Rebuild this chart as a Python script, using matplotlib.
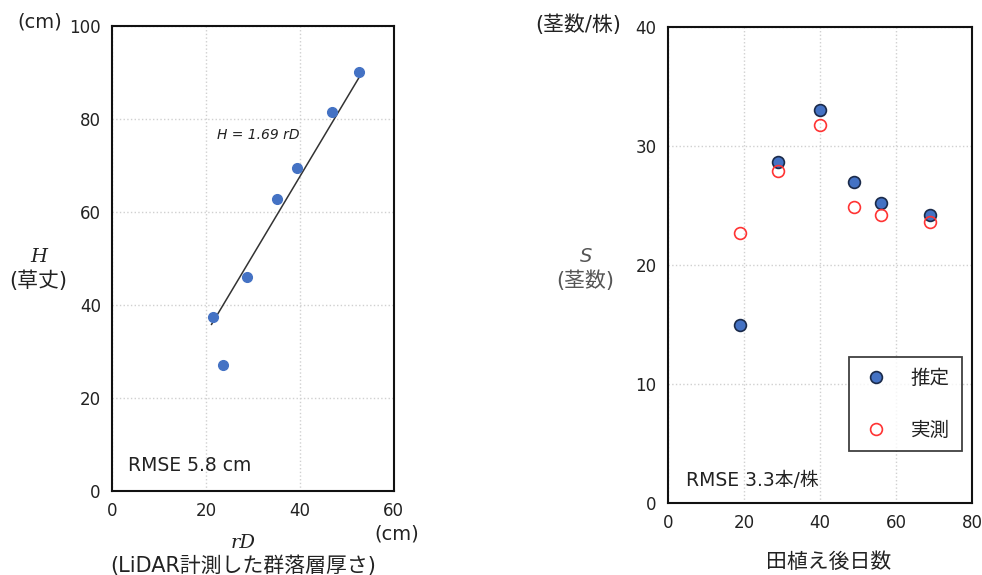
import numpy as np
import matplotlib.pyplot as plt

plt.rcParams['font.family'] = ['DejaVu Sans', 'Noto Sans CJK JP']

# left panel: canopy depth from LiDAR vs plant height
rd = [21.5, 23.6, 28.7, 35.1, 39.4, 46.8, 52.6]
height = [37.4, 27.1, 46.0, 62.8, 69.5, 81.5, 90.1]
slope = 1.69
fit_range = [21.2, 52.9]

# right panel: days after transplanting vs stem count
days = [19, 29, 40, 49, 56, 69]
stems_est = [15.0, 28.7, 33.0, 27.0, 25.2, 24.2]
stems_obs = [22.7, 27.9, 31.8, 24.9, 24.2, 23.6]

blue = '#4472C4'
txt = '#222222'

fig = plt.figure(figsize=(9.82, 5.75), dpi=100)
ax1 = fig.add_axes([0.114, 0.146, 0.287, 0.809])
ax2 = fig.add_axes([0.680, 0.125, 0.310, 0.828])

for ax in (ax1, ax2):
    ax.grid(True, color='#d0d0d0', linestyle=':', linewidth=1.0)
    ax.set_axisbelow(True)
    for sp in ax.spines.values():
        sp.set_linewidth(1.5)
        sp.set_color('#111111')
    ax.tick_params(length=0, pad=8, labelsize=12, labelcolor=txt)

# ---- left
ax1.set_xlim(0, 60)
ax1.set_ylim(0, 100)
ax1.set_xticks([0, 20, 40, 60])
ax1.set_yticks([0, 20, 40, 60, 80, 100])
fx = np.array(fit_range)
ax1.plot(fx, slope * fx, color='#333333', linewidth=1.1, zorder=2)
ax1.plot(rd, height, 'o', color=blue, markersize=7, zorder=3)
ax1.text(22.3, 76.6, 'H = 1.69 rD', fontsize=10, style='italic', color=txt, va='center')
ax1.text(3.4, 5.6, 'RMSE 5.8 cm', fontsize=13.5, color=txt, va='center')

fig.text(40 / 982, 1 - 22 / 575, '(cm)', fontsize=14, color=txt, ha='center', va='center')
fig.text(39 / 982, 1 - 257 / 575, 'H', fontsize=14, style='italic',
         family='DejaVu Serif', color=txt, ha='center', va='center')
fig.text(38 / 982, 1 - 281 / 575, '(草丈)', fontsize=15, color=txt, ha='center', va='center')
fig.text(397 / 982, 1 - 534 / 575, '(cm)', fontsize=14, color=txt, ha='center', va='center')
fig.text(243 / 982, 1 - 543 / 575, 'rD', fontsize=14, style='italic',
         family='DejaVu Serif', color=txt, ha='center', va='center')
fig.text(243 / 982, 1 - 566 / 575, '(LiDAR計測した群落層厚さ)', fontsize=15, color=txt,
         ha='center', va='center')

# ---- right
ax2.set_xlim(0, 80)
ax2.set_ylim(0, 40)
ax2.set_xticks([0, 20, 40, 60, 80])
ax2.set_yticks([0, 10, 20, 30, 40])
ax2.plot(days, stems_est, 'o', color=blue, markeredgecolor='#1a2a4a', markeredgewidth=1.2,
         markersize=8.5, label='推定', zorder=3)
ax2.plot(days, stems_obs, 'o', markerfacecolor='none', markeredgecolor='#ff3333',
         markeredgewidth=1.2, markersize=8.5, label='実測', zorder=3)
ax2.text(4.9, 1.9, 'RMSE 3.3本/株', fontsize=13.5, color=txt, va='center')
leg = ax2.legend(loc='lower right', bbox_to_anchor=(0.965, 0.109), frameon=True, fancybox=False,
                 edgecolor='#111111', fontsize=14, labelspacing=1.7, handlelength=1.6,
                 handletextpad=1.0, borderpad=0.6, borderaxespad=0)
leg.get_frame().set_linewidth(1.3)
for t in leg.get_texts():
    t.set_color(txt)

fig.text(578 / 982, 1 - 25 / 575, '(茎数/株)', fontsize=15, color=txt, ha='center', va='center')
fig.text(586 / 982, 1 - 256 / 575, 'S', fontsize=14, style='italic', color='#555555',
         ha='center', va='center')
fig.text(585 / 982, 1 - 281 / 575, '(茎数)', fontsize=15, color='#555555', ha='center', va='center')
fig.text(829 / 982, 1 - 562 / 575, '田植え後日数', fontsize=15, color=txt, ha='center', va='center')

fig.savefig('out.png', dpi=100)
